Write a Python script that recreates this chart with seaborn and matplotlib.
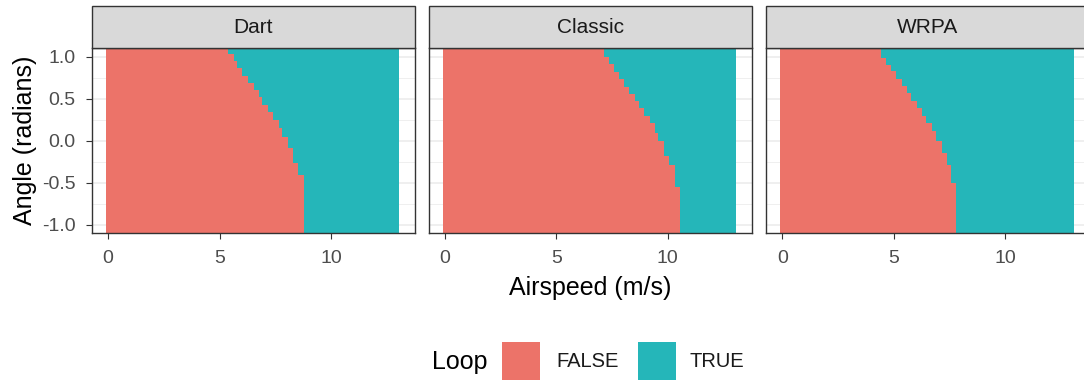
import numpy as np
import pandas as pd
import matplotlib
matplotlib.use("Agg")
import matplotlib.pyplot as plt
from matplotlib.patches import Rectangle
import seaborn as sns

# ---------------- data ----------------
frames = ["Dart", "Classic", "WRPA"]

# angle (rad) where the loop threshold steps, listed from top to bottom
dart_breaks = [1.035, 0.946, 0.863, 0.776, 0.689, 0.605, 0.517, 0.430,
               0.342, 0.251, 0.152, 0.044, -0.087, -0.263, -0.406]
dart_speeds = [5.40, 5.63, 5.79, 6.02, 6.27, 6.54, 6.76, 6.91,
               7.16, 7.42, 7.66, 7.81, 8.05, 8.30, 8.53, 8.78]

classic_breaks = [0.994, 0.915, 0.823, 0.736, 0.644, 0.557, 0.477, 0.385,
                  0.298, 0.211, 0.092, -0.006, -0.179, -0.286, -0.545]
classic_speeds = [7.16, 7.38, 7.57, 7.80, 8.03, 8.28, 8.51, 8.70,
                  8.92, 9.18, 9.41, 9.56, 9.81, 10.06, 10.31, 10.55]

wrpa_breaks = [0.987, 0.907, 0.827, 0.736, 0.648, 0.564, 0.477, 0.385,
               0.298, 0.211, 0.119, -0.008, -0.140, -0.286, -0.498]
wrpa_speeds = [4.42, 4.64, 4.87, 5.12, 5.35, 5.57, 5.79, 6.02,
               6.27, 6.43, 6.69, 6.91, 7.16, 7.40, 7.58, 7.81]

angle_top, angle_bottom = 1.10, -1.10
speed_min, speed_max = -0.10, 13.06

loop_levels = ["FALSE", "TRUE"]
x_ticks = [0, 5, 10]
y_ticks = [-1.0, -0.5, 0.0, 0.5, 1.0]
y_ticklabels = ["-1.0", "-0.5", "0.0", "0.5", "1.0"]

rows = []
for frame, breaks, speeds in zip(frames,
                                 [dart_breaks, classic_breaks, wrpa_breaks],
                                 [dart_speeds, classic_speeds, wrpa_speeds]):
    edges = [angle_top] + breaks + [angle_bottom]
    for i, s in enumerate(speeds):
        rows.append(dict(Frame=frame, hi=edges[i], lo=edges[i + 1], speed=s))
df = pd.DataFrame(rows)

false_color = "#EC7369"
true_color = "#25B6B9"

# ---------------- style ----------------
sns.set_theme(style="white")
plt.rcParams["font.family"] = ["Liberation Sans", "DejaVu Sans"]
plt.rcParams["axes.unicode_minus"] = False

W, H = 1084, 381
g = sns.FacetGrid(df, col="Frame", col_order=frames, height=3.81,
                  aspect=(W / H) / 3, sharex=True, sharey=True)


def draw_tiles(data, **kws):
    ax = plt.gca()
    centers = (data["lo"] + data["hi"]) / 2
    heights = data["hi"] - data["lo"]
    ax.barh(centers, data["speed"] - speed_min, left=speed_min, height=heights,
            color=false_color, linewidth=0, antialiased=False, zorder=2)
    ax.barh(centers, speed_max - data["speed"], left=data["speed"], height=heights,
            color=true_color, linewidth=0, antialiased=False, zorder=2)


g.map_dataframe(draw_tiles)
g.set_titles(col_template="")
g.set_axis_labels("", "")

fig = g.figure
fig.set_size_inches(W / 100, H / 100)
fig.set_dpi(100)

panel_top, panel_bottom = 48.3, 233.3
panel_w = 323
lefts = [91.7, 428.5, 766.0]
strip_h = 42.5

for i, (ax, frame, l) in enumerate(zip(g.axes.flat, frames, lefts)):
    ax.set_position([l / W, 1 - panel_bottom / H, panel_w / W,
                     (panel_bottom - panel_top) / H])
    ax.set_xlim(-0.73, 13.75)
    ax.set_ylim(angle_bottom, angle_top)
    ax.set_xticks(x_ticks)
    ax.set_xticklabels([str(t) for t in x_ticks])
    ax.set_xticks([2.5, 7.5, 12.5], minor=True)
    ax.set_yticks(y_ticks)
    ax.set_yticks([-0.75, -0.25, 0.25, 0.75], minor=True)
    ax.set_axisbelow(True)
    ax.grid(which="major", color="#EBEBEB", linewidth=1.1, zorder=0)
    ax.grid(which="minor", color="#EBEBEB", linewidth=0.55, zorder=0)
    ax.set_facecolor("white")
    for sp in ax.spines.values():
        sp.set_visible(True)
        sp.set_color("#333333")
        sp.set_linewidth(1.0)
        sp.set_zorder(5)
    ax.tick_params(axis="x", which="major", length=4.2, width=0.8,
                   color="#333333", labelcolor="#4D4D4D", labelsize=14,
                   pad=8.0, bottom=True, labelbottom=True)
    ax.tick_params(axis="y", which="major", length=4.5, width=0.8,
                   color="#333333", labelcolor="#4D4D4D", labelsize=14,
                   pad=7.0)
    ax.tick_params(which="minor", length=0)
    if i == 0:
        ax.set_yticklabels(y_ticklabels)
        ax.tick_params(axis="y", left=True, labelleft=True)
    else:
        ax.tick_params(axis="y", left=False, labelleft=False)
    # facet strip
    ax.add_patch(Rectangle((0, 1), 1, strip_h / (panel_bottom - panel_top),
                           transform=ax.transAxes, clip_on=False,
                           facecolor="#D9D9D9", edgecolor="#333333",
                           linewidth=1.0, zorder=6))
    ax.text(0.5, 1 + (strip_h / 2) / (panel_bottom - panel_top), frame,
            transform=ax.transAxes, ha="center", va="center",
            fontsize=15, color="#1A1A1A", zorder=7)

# axis titles
fig.text(590 / W, 1 - 288.3 / H, "Airspeed (m/s)", ha="center", va="center",
         fontsize=18, color="black")
fig.text(25 / W, 1 - 140.8 / H, "Angle (radians)", rotation=90,
         ha="center", va="center", fontsize=18, color="black")

# legend
fig.text(431.7 / W, 1 - 362.5 / H, "Loop", ha="left", va="center",
         fontsize=18, color="black")
key_y0, key_size = 341.7, 38.3
for lvl, col, kx, tx in zip(loop_levels, [false_color, true_color],
                            [501.7, 637.7], [556.7, 690.0]):
    fig.add_artist(Rectangle((kx / W, 1 - (key_y0 + key_size) / H),
                             key_size / W, key_size / H,
                             transform=fig.transFigure, facecolor=col,
                             edgecolor="none"))
    fig.text(tx / W, 1 - 361.5 / H, lvl, ha="left", va="center",
             fontsize=14.5, color="#1A1A1A")

fig.savefig("out.png", dpi=100)
